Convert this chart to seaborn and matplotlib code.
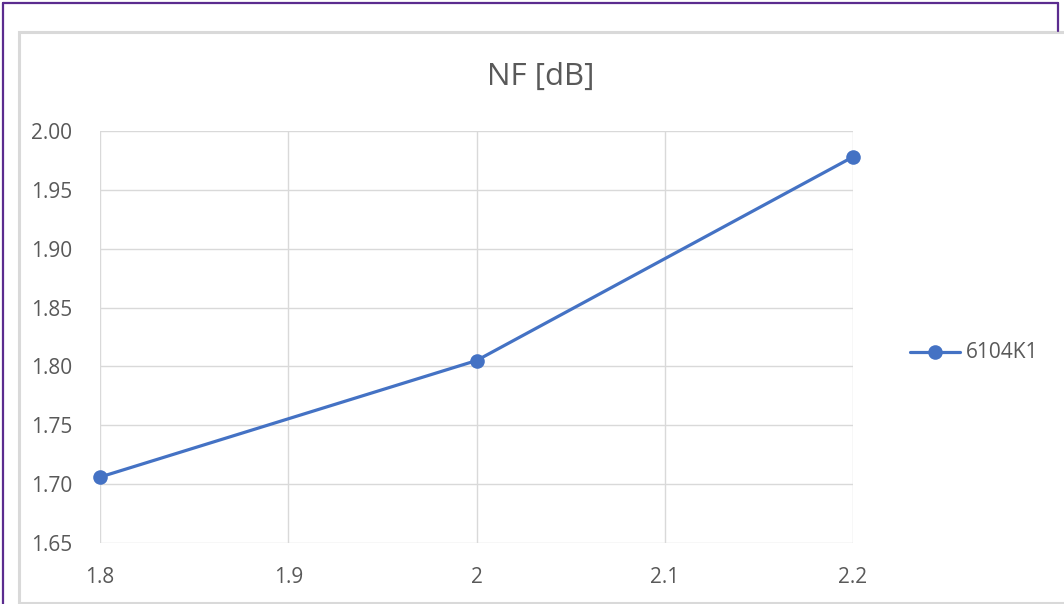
import matplotlib
matplotlib.use("Agg")
import matplotlib.pyplot as plt
from matplotlib.lines import Line2D
from matplotlib.patches import Rectangle
import seaborn as sns
import pandas as pd

# Noise figure vs. frequency
frequency = [1.8, 2.0, 2.2]
nf_db = [1.706, 1.805, 1.978]
series_name = "6104K1"
x_ticks = [1.8, 1.9, 2.0, 2.1, 2.2]
x_tick_labels = ["1.8", "1.9", "2", "2.1", "2.2"]
y_ticks = [1.65, 1.70, 1.75, 1.80, 1.85, 1.90, 1.95, 2.00]

sns.set_theme(style="white")
plt.rcParams["font.family"] = ["Open Sans", "DejaVu Sans"]

W, H = 1064, 604
fig = plt.figure(figsize=(W / 100, H / 100), dpi=100, facecolor="white")

def fx(px):
    return px / W

def fy(py):
    return 1 - py / H

# outer frame
purple = "#5b2c8f"
fig.add_artist(Line2D([fx(2.5), fx(1057.5)], [fy(2.5), fy(2.5)], color=purple, lw=1.6))
fig.add_artist(Line2D([fx(2.5), fx(2.5)], [fy(2.5), fy(604)], color=purple, lw=1.6))
fig.add_artist(Line2D([fx(1057.5), fx(1057.5)], [fy(2.5), fy(31)], color=purple, lw=1.6))
# chart area box
fig.add_artist(Rectangle((fx(18.5), fy(602.5)), fx(1100) - fx(18.5), fy(31.5) - fy(602.5),
                         facecolor="white", edgecolor="#d9d9d9", lw=2.2, zorder=0))

ax = fig.add_axes([fx(100), fy(543), fx(853) - fx(100), fy(131) - fy(543)])
ax.set_facecolor("none")

df = pd.DataFrame({"freq": frequency, "nf": nf_db, "series": series_name})
sns.lineplot(data=df, x="freq", y="nf", hue="series", palette=["#4472C4"],
             marker="o", markersize=10.5, markeredgewidth=0, linewidth=2.3,
             ax=ax, legend=False, zorder=5, clip_on=False)

ax.set_xlim(1.8, 2.2)
ax.set_ylim(1.65, 2.00)
ax.set_xticks(x_ticks)
ax.set_xticklabels(x_tick_labels)
ax.set_yticks(y_ticks)
ax.set_yticklabels([f"{v:.2f}" for v in y_ticks])
ax.grid(True, color="#d9d9d9", lw=1.0)
for s in ax.spines.values():
    s.set_visible(False)
ax.tick_params(axis="both", length=0, labelsize=15, colors="#595959")
ax.tick_params(axis="y", pad=20)
ax.tick_params(axis="x", pad=17)
ax.set_xlabel("")
ax.set_ylabel("")

fig.text(fx(541), fy(77), "NF [dB]", ha="center", va="center", fontsize=22.5, color="#595959")

# legend entry
fig.add_artist(Line2D([fx(910), fx(960)], [fy(352), fy(352)], color="#4472C4", lw=2.3))
fig.add_artist(Line2D([fx(935)], [fy(352)], marker="o", markersize=10.5, markeredgewidth=0,
                      color="#4472C4"))
fig.text(fx(966), fy(352), series_name, ha="left", va="center", fontsize=15, color="#595959")

fig.savefig("out.png", dpi=100, facecolor="white")
